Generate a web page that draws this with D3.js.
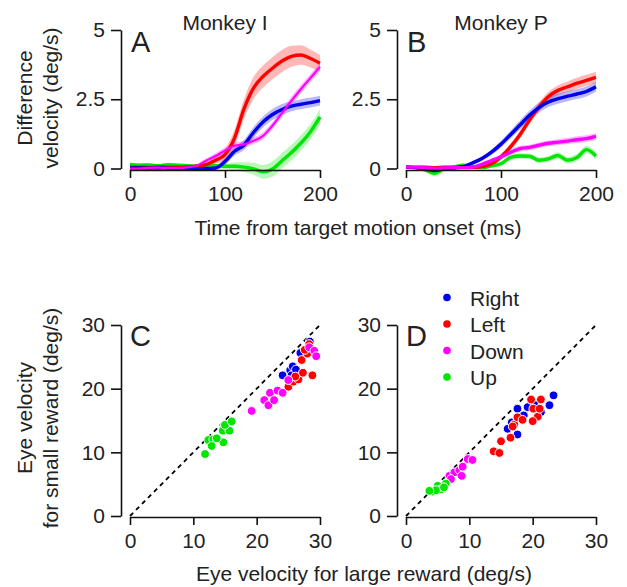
<!DOCTYPE html>
<html><head><meta charset="utf-8">
<script src="https://cdn.jsdelivr.net/npm/d3@7"></script>
<style>
body{margin:0;background:#fff}
svg text{font-family:"Liberation Sans",Arial,Helvetica,sans-serif;fill:#222}
</style>
</head><body><svg id="c" width="627" height="587"></svg>
<script>
// ---------- data ----------
const times = [0,10,20,30,40,50,60,70,80,90,100,110,120,130,140,150,160,170,180,190,200];
const timeTicks = [0,100,200];
const diffTicks = [0,2.5,5];
const eyeTicks = [0,10,20,30];

// Panel A (Monkey I)
const A_right = [0.02,0.02,0.01,0.02,0.01,0.0,-0.01,-0.02,0.0,0.02,0.25,0.62,0.85,1.3,1.68,1.95,2.13,2.25,2.32,2.38,2.45];
const A_left  = [0.05,0.05,0.04,0.06,0.05,0.05,0.06,0.08,0.14,0.3,0.5,1.1,2.15,2.9,3.32,3.62,3.88,4.05,4.1,3.97,3.8];
const A_down  = [0.0,0.0,0.02,0.03,0.02,0.02,0.04,0.1,0.28,0.45,0.65,0.82,0.87,1.0,1.18,1.55,2.0,2.45,2.87,3.27,3.67];
const A_up    = [0.15,0.12,0.13,0.1,0.14,0.12,0.1,0.08,0.12,0.1,0.08,0.08,0.05,-0.01,-0.12,-0.02,0.28,0.58,0.92,1.33,1.86];
const A_right_err = [0.05,0.05,0.05,0.05,0.05,0.05,0.05,0.05,0.06,0.08,0.12,0.15,0.18,0.2,0.2,0.2,0.2,0.18,0.18,0.18,0.18];
const A_left_err  = [0.06,0.06,0.06,0.06,0.06,0.06,0.06,0.06,0.08,0.12,0.2,0.3,0.35,0.4,0.4,0.4,0.4,0.38,0.35,0.32,0.3];
const A_down_err  = [0.04,0.04,0.04,0.04,0.04,0.04,0.05,0.06,0.08,0.1,0.12,0.12,0.12,0.12,0.13,0.13,0.14,0.15,0.15,0.15,0.15];
const A_up_err    = [0.06,0.06,0.06,0.06,0.06,0.06,0.06,0.06,0.07,0.08,0.1,0.14,0.18,0.22,0.25,0.28,0.28,0.28,0.28,0.28,0.28];

// Panel B (Monkey P)
const B_right = [0.05,0.03,-0.02,-0.07,-0.01,0.02,0.07,0.2,0.36,0.59,0.88,1.22,1.57,1.92,2.2,2.4,2.52,2.61,2.69,2.78,2.95];
const B_left  = [0.05,0.04,0.05,0.03,0.05,0.05,0.05,0.04,0.07,0.17,0.42,0.78,1.22,1.75,2.22,2.6,2.82,2.95,3.08,3.18,3.29];
const B_down  = [0.05,0.05,0.03,0.0,0.02,0.03,0.03,0.05,0.15,0.29,0.42,0.58,0.72,0.76,0.84,0.91,0.95,0.99,1.04,1.08,1.16];
const B_up    = [0.05,0.03,-0.05,-0.17,-0.02,0.05,0.12,0.08,0.03,0.1,0.17,0.4,0.45,0.44,0.3,0.35,0.47,0.3,0.4,0.68,0.45];
const B_right_err = [0.06,0.06,0.06,0.06,0.06,0.06,0.06,0.07,0.08,0.1,0.12,0.14,0.16,0.17,0.18,0.18,0.18,0.18,0.18,0.18,0.18];
const B_left_err  = [0.05,0.05,0.05,0.05,0.05,0.05,0.05,0.05,0.06,0.08,0.1,0.12,0.14,0.15,0.16,0.17,0.18,0.19,0.2,0.2,0.2];
const B_down_err  = [0.04,0.04,0.04,0.04,0.04,0.04,0.04,0.05,0.06,0.07,0.08,0.09,0.1,0.1,0.1,0.1,0.11,0.11,0.12,0.12,0.12];
const B_up_err    = [0.06,0.06,0.08,0.1,0.07,0.06,0.06,0.06,0.06,0.07,0.08,0.1,0.1,0.1,0.1,0.11,0.12,0.12,0.13,0.14,0.14];

// Panel C (Monkey I) scatter: [large reward, small reward]
const C_right = [[24.1,22.1],[25.3,22.9],[25.7,23.5],[25.5,22.1],[27.3,25.8],[28.4,27.4],[26.9,25.6],[26.2,23.0]];
const C_left  = [[25.0,20.3],[25.8,21.1],[26.6,21.45],[27.1,24.5],[27.3,22.5],[28.8,22.1],[28.3,27.0],[28.0,25.5],[27.6,26.1],[26.1,21.9]];
const C_down  = [[19.2,16.5],[21.2,18.2],[21.85,17.4],[22.1,19.35],[22.75,18.2],[23.3,19.7],[24.1,19.35],[25.0,21.35],[28.3,26.5],[29.1,25.95],[29.4,25.1]];
const C_up    = [[11.85,9.73],[12.37,11.93],[13.16,12.04],[12.9,11.0],[14.74,11.57],[14.64,13.4],[15.7,13.4],[15.0,14.3],[16.06,14.86],[13.7,12.2]];

// Panel D (Monkey P) scatter
const D_right = [[16.05,13.7],[17.6,12.8],[17.6,16.85],[18.6,15.8],[19.2,17.1],[22.65,17.4],[23.3,18.95],[20.3,17.5],[21.3,16.3],[16.7,14.7]];
const D_left  = [[13.85,10.16],[14.75,9.9],[15.0,11.74],[16.5,12.3],[17.1,14.4],[17.6,15.5],[18.4,15.1],[19.75,18.3],[20.1,16.85],[20.8,15.6],[20.0,14.9],[21.3,18.3],[21.1,16.85],[16.85,14.06]];
const D_down  = [[6.85,6.3],[7.64,6.84],[8.43,7.2],[8.95,7.74],[9.75,8.95],[8.8,6.3],[10.5,8.8],[7.1,5.8]];
const D_up    = [[4.2,3.84],[5.0,4.74],[5.5,4.2],[6.3,5.1],[4.74,4.05],[3.7,3.95],[6.0,4.5]];

const dirNames = ["Right","Left","Down","Up"];
const dirColors = ["#0000ee","#ff0000","#ff00ff","#00e600"];

// ---------- drawing ----------
const svg = d3.select("#c");
const FS = 21;

function styleAxis(g){
  g.selectAll(".domain").attr("stroke","#111").attr("stroke-width",1.6);
  g.selectAll(".tick line").attr("stroke","#111").attr("stroke-width",1.6);
  g.selectAll(".tick text").style("font-size",FS+"px").attr("fill","#222");
}

function timePanel(x0, letter, title, series, errs, thin){
  const x = d3.scaleLinear().domain([0,200]).range([x0+9, x0+199]);
  const y = d3.scaleLinear().domain([0,5]).range([168.5,30]);
  const g = svg.append("g");
  const order = [3,1,0,2]; // up, left, right, down
  order.forEach(i=>{
    const area = d3.area().x((d,j)=>x(times[j])).y0((d,j)=>y(series[i][j]-errs[i][j])).y1((d,j)=>y(series[i][j]+errs[i][j])).curve(d3.curveMonotoneX);
    g.append("path").datum(series[i]).attr("d",area).attr("fill",dirColors[i]).attr("fill-opacity",0.28);
  });
  order.forEach(i=>{
    const line = d3.line().x((d,j)=>x(times[j])).y(d=>y(d)).curve(d3.curveMonotoneX);
    g.append("path").datum(series[i]).attr("d",line).attr("fill","none").attr("stroke",dirColors[i])
      .attr("stroke-width", (i===2 && thin) ? 2.2 : 3.4).attr("stroke-linejoin","round");
  });
  const ya = svg.append("g").attr("transform",`translate(${x0},0)`)
    .call(d3.axisLeft(y).tickValues(diffTicks).tickSize(10).tickSizeOuter(0).tickPadding(6).tickFormat(d=>d===2.5?"2.5":d3.format("d")(d)));
  styleAxis(ya);
  const xa = svg.append("g").attr("transform",`translate(0,170)`)
    .call(d3.axisBottom(x).tickValues(timeTicks).tickSize(8).tickSizeOuter(0).tickPadding(8));
  styleAxis(xa);
  svg.append("text").attr("x",x0+10).attr("y",52).style("font-size","29px").text(letter);
  svg.append("text").attr("x",(x(0)+x(200))/2).attr("y",30).attr("text-anchor","middle").style("font-size",FS+"px").text(title);
}

timePanel(121,"A","Monkey I",[A_right,A_left,A_down,A_up],[A_right_err,A_left_err,A_down_err,A_up_err],true);
timePanel(397,"B","Monkey P",[B_right,B_left,B_down,B_up],[B_right_err,B_left_err,B_down_err,B_up_err],false);

function scatterPanel(x0, letter, sets){
  const x = d3.scaleLinear().domain([0,30]).range([x0+9, x0+199]);
  const y = d3.scaleLinear().domain([0,30]).range([516,325]);
  const ya = svg.append("g").attr("transform",`translate(${x0},0)`)
    .call(d3.axisLeft(y).tickValues(eyeTicks).tickSize(10).tickSizeOuter(0).tickPadding(6));
  styleAxis(ya);
  const xa = svg.append("g").attr("transform",`translate(0,517)`)
    .call(d3.axisBottom(x).tickValues(eyeTicks).tickSize(8).tickSizeOuter(0).tickPadding(8));
  styleAxis(xa);
  svg.append("line").attr("x1",x(0)).attr("y1",y(0)).attr("x2",x(30)).attr("y2",y(30))
    .attr("stroke","#000").attr("stroke-width",1.8).attr("stroke-dasharray","4.5,4");
  [0,1,2,3].forEach(i=>{
    svg.append("g").selectAll("circle").data(sets[i]).join("circle")
      .attr("cx",d=>x(d[0])).attr("cy",d=>y(d[1])).attr("r",4.4)
      .attr("fill",dirColors[i]).attr("stroke","#fff").attr("stroke-width",1);
  });
  svg.append("text").attr("x",x0+9).attr("y",346).style("font-size","29px").text(letter);
}

scatterPanel(121,"C",[C_right,C_left,C_down,C_up]);
scatterPanel(397,"D",[D_right,D_left,D_down,D_up]);

// legend
const leg = svg.append("g");
dirNames.forEach((n,i)=>{
  const yy = 297.5 + i*26.5;
  leg.append("circle").attr("cx",447).attr("cy",yy).attr("r",3.8).attr("fill",dirColors[i]);
  leg.append("text").attr("x",470).attr("y",yy+8).style("font-size",FS+"px").text(n);
});

// axis titles
svg.append("text").attr("x",358).attr("y",235).attr("text-anchor","middle").style("font-size",FS+"px").text("Time from target motion onset (ms)");
svg.append("text").attr("x",364).attr("y",581).attr("text-anchor","middle").style("font-size",FS+"px").text("Eye velocity for large reward (deg/s)");

function vlabel(cy, l1, l2){
  svg.append("text").attr("transform",`translate(32,${cy}) rotate(-90)`).attr("text-anchor","middle").style("font-size",FS+"px").text(l1);
  svg.append("text").attr("transform",`translate(58,${cy}) rotate(-90)`).attr("text-anchor","middle").style("font-size",FS+"px").text(l2);
}
vlabel(98,"Difference","velocity (deg/s)");
vlabel(418,"Eye velocity","for small reward (deg/s)");
</script>
</body></html>
